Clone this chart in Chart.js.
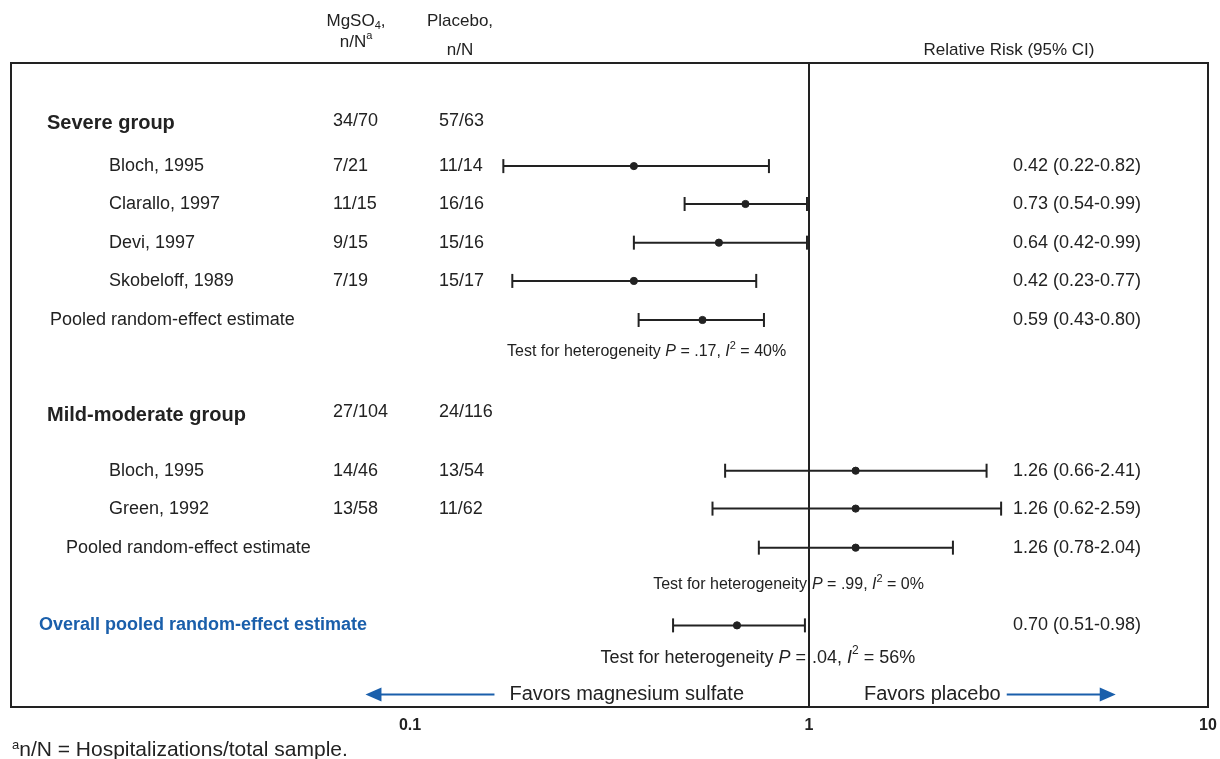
<!DOCTYPE html>
<html>
<head>
<meta charset="utf-8">
<script src="https://cdn.jsdelivr.net/npm/chart.js@4.4.1/dist/chart.umd.min.js"></script>
<style>
  html, body { margin: 0; padding: 0; background: #fff; }
  #wrap { width: 1220px; height: 759px; }
</style>
</head>
<body>
<div id="wrap"><canvas id="forest" width="1220" height="759"></canvas></div>
<script>
// rows of the plot, top to bottom
const rowLabels = ['Severe group', 'Bloch, 1995', 'Clarallo, 1997', 'Devi, 1997', 'Skobeloff, 1989',
  'Pooled random-effect estimate', 'Mild-moderate group', 'Bloch, 1995', 'Green, 1992',
  'Pooled random-effect estimate', 'Overall pooled random-effect estimate'];
const rowKind = ['group', 'study', 'study', 'study', 'study', 'pooled', 'group', 'study', 'study', 'pooled', 'overall'];
const mgso4N = ['34/70', '7/21', '11/15', '9/15', '7/19', '', '27/104', '14/46', '13/58', '', ''];
const placeboN = ['57/63', '11/14', '16/16', '15/16', '15/17', '', '24/116', '13/54', '11/62', '', ''];
const relRisk = [null, 0.42, 0.73, 0.64, 0.42, 0.59, null, 1.26, 1.26, 1.26, 0.70];
const ciLow = [null, 0.22, 0.54, 0.42, 0.23, 0.43, null, 0.66, 0.62, 0.78, 0.51];
const ciHigh = [null, 0.82, 0.99, 0.99, 0.77, 0.80, null, 2.41, 2.59, 2.04, 0.98];
const hetP = ['.17', '.99', '.04'];
const hetI2 = ['40%', '0%', '56%'];
const xTicks = [0.1, 1, 10];

// layout: row slot of each line (y axis units), label indents
const rowY = [1.55, 2.64, 3.61, 4.6, 5.58, 6.58, 9.02, 10.44, 11.41, 12.41, 14.4];
const hetY = [7.4, 13.36, 15.23];
const favorsY = 16.17;
const labelX = [47, 109, 109, 109, 109, 50, 47, 109, 109, 66, 39];
const colMg = 333, colPl = 439, colRR = 1013;

// the reference spreads its marks wider than its tick labels; marks use their own log axis
const markStretch = 1.165;

const FONT = '"Liberation Sans", Arial, Helvetica, sans-serif';
const BLUE = '#1a5fab';
const INK = '#222';

const datasets = [];
relRisk.forEach((v, i) => {
  if (v == null) return;
  datasets.push({
    type: 'line',
    xAxisID: 'xd',
    data: [{ x: ciLow[i], y: rowY[i] }, { x: ciHigh[i], y: rowY[i] }],
    borderColor: INK,
    borderWidth: 2,
    pointStyle: 'line',
    rotation: 90,
    pointRadius: 7,
    pointBorderWidth: 2,
    pointBorderColor: INK,
    showLine: true
  });
});
datasets.push({
  type: 'scatter',
  xAxisID: 'xd',
  data: relRisk.map((v, i) => v == null ? null : { x: v, y: rowY[i] }).filter(Boolean),
  backgroundColor: INK,
  borderColor: INK,
  pointRadius: 3.6
});

// draw text pieces one after another (for italics, sub- and superscripts)
function drawRuns(ctx, x, y, runs, align) {
  let total = 0;
  runs.forEach(r => { ctx.font = r.font; total += ctx.measureText(r.t).width; });
  let cx = align === 'right' ? x - total : align === 'center' ? x - total / 2 : x;
  ctx.textAlign = 'left';
  runs.forEach(r => {
    ctx.font = r.font;
    ctx.fillText(r.t, cx, y + (r.dy || 0));
    cx += ctx.measureText(r.t).width;
  });
}

const textPlugin = {
  id: 'forestText',
  beforeDatasetsDraw(chart) {
    const { ctx, chartArea: a, scales } = chart;
    const x1 = scales.x.getPixelForValue(1);
    ctx.save();
    ctx.strokeStyle = INK;
    ctx.lineWidth = 2;
    ctx.strokeRect(a.left, a.top, a.right - a.left, a.bottom - a.top);
    ctx.beginPath();
    ctx.moveTo(x1, a.top);
    ctx.lineTo(x1, a.bottom);
    ctx.stroke();
    ctx.restore();
  },
  afterDatasetsDraw(chart) {
    const { ctx, scales } = chart;
    const y = v => scales.y.getPixelForValue(v);
    const x1 = scales.x.getPixelForValue(1);
    const reg = '18px ' + FONT;
    ctx.save();
    ctx.fillStyle = INK;
    ctx.textBaseline = 'middle';

    // header above the box
    const h = '17px ' + FONT, hs = '11px ' + FONT;
    drawRuns(ctx, 356, 21, [{ t: 'MgSO', font: h }, { t: '4', font: hs, dy: 5 }, { t: ',', font: h }], 'center');
    drawRuns(ctx, 356, 42, [{ t: 'n/N', font: h }, { t: 'a', font: hs, dy: -6 }], 'center');
    drawRuns(ctx, 460, 21, [{ t: 'Placebo,', font: h }], 'center');
    drawRuns(ctx, 460, 50, [{ t: 'n/N', font: h }], 'center');
    drawRuns(ctx, 1009, 50, [{ t: 'Relative Risk (95% CI)', font: h }], 'center');

    rowLabels.forEach((lab, i) => {
      const yy = y(rowY[i]);
      let font = reg;
      ctx.fillStyle = INK;
      if (rowKind[i] === 'group') font = 'bold 20px ' + FONT;
      if (rowKind[i] === 'overall') { font = 'bold 18px ' + FONT; ctx.fillStyle = BLUE; }
      ctx.font = font;
      ctx.textAlign = 'left';
      ctx.fillText(lab, labelX[i], yy);
      ctx.fillStyle = INK;
      ctx.font = reg;
      const ny = rowKind[i] === 'group' ? yy - 3 : yy;
      if (mgso4N[i]) ctx.fillText(mgso4N[i], colMg, ny);
      if (placeboN[i]) ctx.fillText(placeboN[i], colPl, ny);
      if (relRisk[i] != null) {
        ctx.fillText(relRisk[i].toFixed(2) + ' (' + ciLow[i].toFixed(2) + '-' + ciHigh[i].toFixed(2) + ')', colRR, yy);
      }
    });

    // heterogeneity tests
    const het = (size, i) => {
      const n = size + 'px ' + FONT, it = 'italic ' + size + 'px ' + FONT, sup = Math.round(size * 0.68) + 'px ' + FONT;
      return [
        { t: 'P', font: it }, { t: ' = ' + hetP[i] + ', ', font: n },
        { t: 'I', font: it }, { t: '2', font: sup, dy: -size * 0.38 }, { t: ' = ' + hetI2[i], font: n }
      ];
    };
    const s16 = '16px ' + FONT;
    drawRuns(ctx, 507, y(hetY[0]), [{ t: 'Test for heterogeneity ', font: s16 }].concat(het(16, 0)), 'left');
    drawRuns(ctx, x1 - 2, y(hetY[1]), [{ t: 'Test for heterogeneity', font: s16 }], 'right');
    drawRuns(ctx, x1 + 3, y(hetY[1]), het(16, 1), 'left');
    const s18 = '18px ' + FONT, i18 = 'italic 18px ' + FONT;
    drawRuns(ctx, x1 - 3, y(hetY[2]), [{ t: 'Test for heterogeneity ', font: s18 }, { t: 'P', font: i18 }, { t: ' =', font: s18 }], 'right');
    drawRuns(ctx, x1 + 3, y(hetY[2]), [{ t: '.04, ', font: s18 }, { t: 'I', font: i18 }, { t: '2', font: '12px ' + FONT, dy: -7 }, { t: ' = ' + hetI2[2], font: s18 }], 'left');

    // favors arrows
    const fy = y(favorsY);
    ctx.font = '20px ' + FONT;
    ctx.textAlign = 'right';
    ctx.fillText('Favors magnesium sulfate', x1 - 65, fy);
    const wl = ctx.measureText('Favors magnesium sulfate').width;
    ctx.textAlign = 'left';
    ctx.fillText('Favors placebo', x1 + 55, fy);
    const wr = ctx.measureText('Favors placebo').width;
    ctx.strokeStyle = BLUE;
    ctx.fillStyle = BLUE;
    ctx.lineWidth = 2;
    const lEnd = x1 - 65 - wl - 15, lTip = lEnd - 129;
    const rStart = x1 + 55 + wr + 6, rTip = rStart + 109;
    ctx.beginPath();
    ctx.moveTo(lEnd, fy); ctx.lineTo(lTip + 12, fy);
    ctx.moveTo(rStart, fy); ctx.lineTo(rTip - 12, fy);
    ctx.stroke();
    ctx.beginPath();
    ctx.moveTo(lTip, fy); ctx.lineTo(lTip + 16, fy - 7); ctx.lineTo(lTip + 16, fy + 7); ctx.closePath();
    ctx.moveTo(rTip, fy); ctx.lineTo(rTip - 16, fy - 7); ctx.lineTo(rTip - 16, fy + 7); ctx.closePath();
    ctx.fill();

    // footnote
    ctx.fillStyle = INK;
    drawRuns(ctx, 12, 750, [{ t: 'a', font: '13px ' + FONT, dy: -5 }, { t: 'n/N = Hospitalizations/total sample.', font: '21px ' + FONT }], 'left');
    ctx.restore();
  }
};

new Chart(document.getElementById('forest'), {
  type: 'scatter',
  data: { datasets: datasets },
  options: {
    responsive: false,
    animation: false,
    layout: { padding: { left: 11, right: 12, top: 63, bottom: 0 } },
    plugins: { legend: { display: false }, tooltip: { enabled: false } },
    scales: {
      x: {
        type: 'logarithmic',
        min: 0.01,
        max: 10,
        afterBuildTicks: axis => { axis.ticks = xTicks.map(v => ({ value: v })); },
        afterFit: axis => { axis.height = 52; axis.paddingLeft = 0; axis.paddingRight = 0; },
        grid: { display: false, drawTicks: false },
        border: { display: false },
        ticks: {
          color: INK,
          padding: 9,
          maxRotation: 0,
          font: { family: FONT, size: 16, weight: 'bold' },
          callback: v => String(v)
        }
      },
      xd: {
        type: 'logarithmic',
        display: false,
        min: Math.pow(10, -2 / markStretch),
        max: Math.pow(10, 1 / markStretch)
      },
      y: {
        type: 'linear',
        display: false,
        reverse: true,
        min: 0,
        max: 16.49
      }
    }
  },
  plugins: [textPlugin]
});
</script>
</body>
</html>
